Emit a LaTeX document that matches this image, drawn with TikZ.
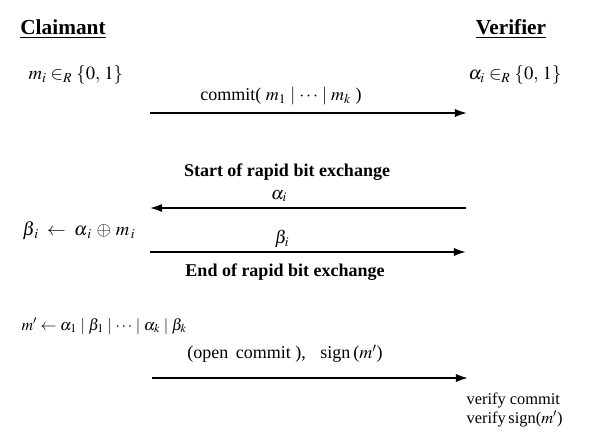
\documentclass[tikz,border=0pt]{standalone}
\usepackage{amsmath}
\usepackage{mathptmx}
\usepackage{fontspec}
\setmainfont{Liberation Serif}
\usepackage{tikz}
\usetikzlibrary{arrows.meta,positioning}

\begin{document}
\begin{tikzpicture}[
    x=0.75pt, y=-0.75pt,
    party/.style={font=\fontsize{16}{19}\selectfont\bfseries, inner sep=1pt},
    stmt/.style={font=\fontsize{14}{17}\selectfont, inner sep=1pt, anchor=west},
    msg/.style={font=\fontsize{13.5}{16}\selectfont, inner sep=1pt},
    phase/.style={font=\fontsize{13.5}{16}\selectfont\bfseries, inner sep=1pt},
    note/.style={font=\fontsize{12.3}{15}\selectfont, inner sep=1pt, anchor=west},
    arr/.style={-{Latex[length=3.2mm, width=2.2mm]}, line width=1.4pt}
  ]
    \useasboundingbox (0,0) rectangle (598,437);
    % parties
    \node[party] (claimant) at (63,29) {\underline{Claimant}};
    \node[party] (verifier) at (511,29) {\underline{Verifier}};
    \node[stmt] (mi) at (27,75) {$m_i \in_R \{0,\, 1\}$};
    \node[stmt] (ai) at (467,75) {$\alpha_i \in_R \{0,\, 1\}$};
    % commit
    \coordinate (c1) at (150,113);
    \coordinate (v1) at (467,113);
    \draw[arr] (c1) -- (v1);
    \node[msg] (commit) at (281,96) {commit( $m_1 \mid \cdots \mid m_k$ )};
    % rapid bit exchange
    \node[phase] (start) at (287,172) {Start of rapid bit exchange};
    \coordinate (c2) at (150,208);
    \coordinate (v2) at (466,208);
    \draw[arr] (v2) -- (c2);
    \node[msg] (alpha) at (279,196) {$\alpha_i$};
    \node[stmt] (beta) at (21,231) {$\beta_{\,i}\;\leftarrow\;\alpha_{\,i}\,\oplus\, m_{\,i}$};
    \coordinate (c3) at (150,252);
    \coordinate (v3) at (466,252);
    \draw[arr] (c3) -- (v3);
    \node[msg] (betai) at (282,239) {$\beta_i$};
    \node[phase] (end) at (285,272) {End of rapid bit exchange};
    % sign
    \node[stmt, font=\fontsize{12}{14}\selectfont] (mprime) at (20,326) {$m' \leftarrow \alpha_1 \mid \beta_1 \mid \cdots \mid \alpha_k \mid \beta_k$};
    \coordinate (c4) at (152,378);
    \coordinate (v4) at (468,378);
    \draw[arr] (c4) -- (v4);
    \node[msg] (open) at (285,354) {(open\, commit ),\;\; sign\,($m'$)};
    \node[note] (vc) at (465,400) {verify commit};
    \node[note] (vs) at (465,419) {verify\,sign($m'$)};
  \end{tikzpicture}
\end{document}
